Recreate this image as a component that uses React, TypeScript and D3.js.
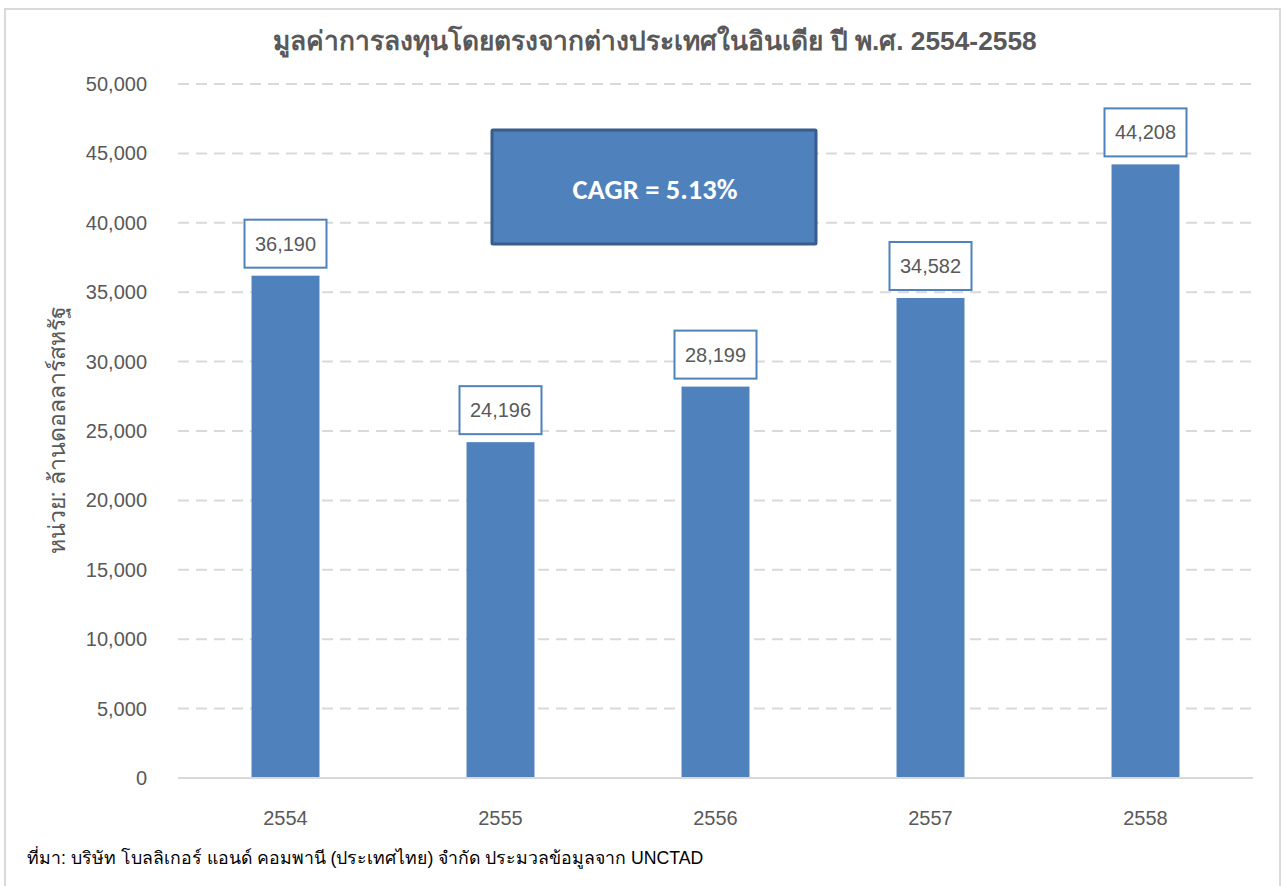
import React from "react";
import * as d3 from "d3";

const categories = ["2554", "2555", "2556", "2557", "2558"];
const values = [36190, 24196, 28199, 34582, 44208];
const yTicks = [0, 5000, 10000, 15000, 20000, 25000, 30000, 35000, 40000, 45000, 50000];
const title = "มูลค่าการลงทุนโดยตรงจากต่างประเทศในอินเดีย ปี พ.ศ. 2554-2558";
const yTitle = "หน่วย: ล้านดอลลาร์สหรัฐ";
const source = "ที่มา: บริษัท โบลลิเกอร์ แอนด์ คอมพานี (ประเทศไทย) จำกัด ประมวลข้อมูลจาก UNCTAD";
const cagrText = "CAGR = 5.13%";

const W = 1283;
const H = 886;
const plot = { left: 178, right: 1253, top: 84, bottom: 778 };
const GRAY = "#595959";
const BLUE = "#4f81bd";
const FONT = "'Liberation Sans', Arial, sans-serif";

export default function App() {
  const x = d3
    .scaleBand<string>()
    .domain(categories)
    .range([plot.left, plot.right])
    .paddingInner(0.684)
    .paddingOuter(0.342);
  const y = d3.scaleLinear().domain([0, 50000]).range([plot.bottom, plot.top]);
  const fmt = d3.format(",");
  const boxW = 82;
  const boxH = 48;

  return (
    <svg
      width={W}
      height={H}
      style={{ position: "absolute", left: 0, top: 0, background: "#fff" }}
      fontFamily={FONT}
    >
      <rect x={0} y={0} width={W} height={H} fill="#fff" />
      <rect x={5} y={9} width={1275} height={890} fill="none" stroke="#d9d9d9" strokeWidth={2} />
      <text x={655} y={41} dy="0.35em" textAnchor="middle" fontSize={26.3} fontWeight="bold" fill={GRAY}>
        {title}
      </text>
      {yTicks.map((t) => (
        <g key={t}>
          {t > 0 ? (
            <line
              x1={plot.left}
              x2={plot.right}
              y1={y(t)}
              y2={y(t)}
              stroke="#d9d9d9"
              strokeWidth={2}
              strokeDasharray="11,7"
            />
          ) : (
            <line x1={plot.left} x2={plot.right} y1={y(t)} y2={y(t)} stroke="#d9d9d9" strokeWidth={2} />
          )}
          <text x={147} y={y(t)} dy="0.35em" textAnchor="end" fontSize={20} fill={GRAY}>
            {fmt(t)}
          </text>
        </g>
      ))}
      {categories.map((c, i) => {
        const bx = x(c)!;
        const cx = bx + x.bandwidth() / 2;
        const top = y(values[i]);
        return (
          <g key={c}>
            <rect x={bx} y={top} width={x.bandwidth()} height={plot.bottom - 1 - top} fill={BLUE} />
            <rect
              x={cx - boxW / 2}
              y={top - 8 - boxH}
              width={boxW}
              height={boxH}
              fill="#fff"
              stroke={BLUE}
              strokeWidth={2}
            />
            <text x={cx} y={top - 8 - boxH / 2} dy="0.35em" textAnchor="middle" fontSize={20} fill={GRAY}>
              {fmt(values[i])}
            </text>
            <text x={cx} y={818} dy="0.35em" textAnchor="middle" fontSize={20} fill={GRAY}>
              {c}
            </text>
          </g>
        );
      })}
      <text
        transform={`translate(57,430) rotate(-90)`}
        textAnchor="middle"
        dy="0.35em"
        fontSize={23}
        fill={GRAY}
      >
        {yTitle}
      </text>
      <rect x={492} y={130} width={324} height={114} fill={BLUE} stroke="#385d8a" strokeWidth={3} rx={1} />
      <text
        x={655}
        y={189}
        dy="0.35em"
        textAnchor="middle"
        fontSize={28.5}
        fontWeight="bold"
        fill="#fff"
        fontFamily="Carlito, Calibri, 'Open Sans', sans-serif"
      >
        {cagrText}
      </text>
      <text x={27} y={858} dy="0.35em" fontSize={17.7} fill="#000">
        {source}
      </text>
    </svg>
  );
}
